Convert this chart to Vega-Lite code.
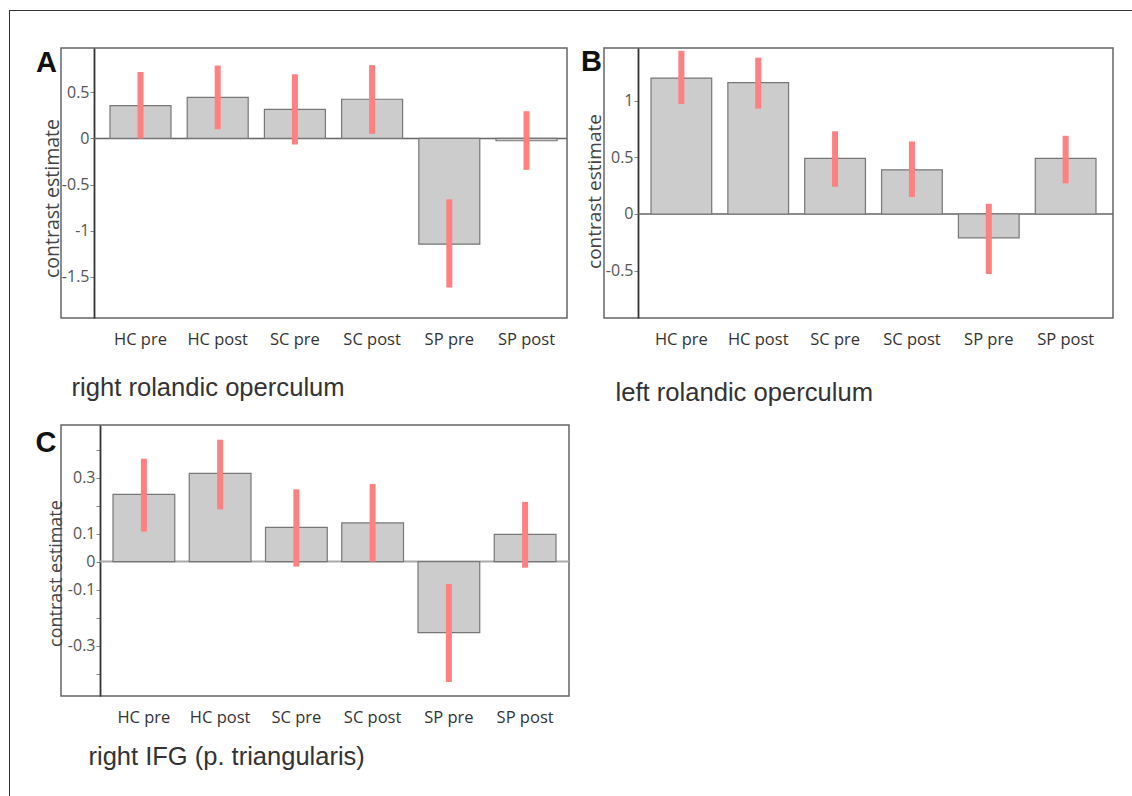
{
  "$schema": "https://vega.github.io/schema/vega-lite/v6.json",
  "padding": {"left": 9, "top": 10, "right": 0, "bottom": 0},
  "background": "white",
  "spacing": 0,
  "config": {
    "view": {"stroke": "#666", "strokeWidth": 1.5},
    "axis": {"grid": false}
  },
  "vconcat": [
    {"width": 1123, "height": 1, "view": {"fill": "#333", "stroke": null}, "data": {"values": []}, "mark": "point", "encoding": {}},
    {
      "spacing": 24,
      "hconcat": [
        {"width": 1, "height": 785, "view": {"fill": "#333", "stroke": null}, "data": {"values": []}, "mark": "point", "encoding": {}},
        {
          "spacing": 35,
          "vconcat": [
            {"width": 1, "height": 1, "view": {"stroke": null}, "data": {"values": []}, "mark": "point", "encoding": {}},
            {
              "spacing": 17,
              "vconcat": [
                {
                  "spacing": 11,
                  "hconcat": [
                    {
                      "width": 506, "height": 270,
                      "title": {"text": "A", "anchor": "start", "frame": "group", "orient": "top", "offset": -30, "dx": -25, "font": "Liberation Sans", "fontSize": 29, "fontWeight": "bold", "color": "#111"},
                      "resolve": {"scale": {"x": "independent"}},
                      "layer": [
                        {
                          "data": {"values": [{"value": 0}]},
                          "mark": {"type": "rule", "color": "#666", "strokeWidth": 1.5},
                          "encoding": {
                            "x": {"datum": 0, "type": "quantitative", "scale": {"domain": [0, 1], "range": [33, 506]}, "axis": null},
                            "x2": {"datum": 1},
                            "y": {"field": "value", "type": "quantitative", "scale": {"domain": [-1.945, 0.98], "nice": false}}
                          }
                        },
                        {
                          "data": {"values": [
                            {"cond": "HC pre", "value": 0.355, "lo": 0.0, "hi": 0.72},
                            {"cond": "HC post", "value": 0.445, "lo": 0.10, "hi": 0.79},
                            {"cond": "SC pre", "value": 0.315, "lo": -0.065, "hi": 0.695},
                            {"cond": "SC post", "value": 0.425, "lo": 0.05, "hi": 0.795},
                            {"cond": "SP pre", "value": -1.145, "lo": -1.615, "hi": -0.66},
                            {"cond": "SP post", "value": -0.025, "lo": -0.34, "hi": 0.295}
                          ]},
                          "layer": [
                            {
                              "mark": {"type": "bar", "fill": "#cccccc", "stroke": "#777", "strokeWidth": 1.2},
                              "encoding": {
                                "x": {"field": "cond", "type": "nominal", "sort": null,
                                  "scale": {"range": [49, 496], "paddingInner": 0.21, "paddingOuter": 0},
                                  "axis": {"orient": "bottom", "domain": false, "ticks": false, "labelPadding": 13, "labelAngle": 0, "labelFont": "Open Sans", "labelFontSize": 16.5, "labelColor": "#333",
                                    "title": "right rolandic operculum", "titleFont": "Liberation Sans", "titleFontSize": 25.6, "titleFontWeight": "normal", "titleColor": "#333", "titleX": 10, "titleY": 77, "titleAlign": "left", "titleBaseline": "alphabetic"}},
                                "y": {"field": "value", "type": "quantitative", "scale": {"domain": [-1.945, 0.98], "nice": false},
                                  "axis": {"values": [-1.5, -1, -0.5, 0, 0.5], "tickCount": 30, "offset": -33, "domainColor": "#333", "domainWidth": 1.8, "tickColor": "#888", "tickSize": 4, "labelPadding": 1, "labelFont": "Open Sans", "labelFontSize": 16, "labelColor": "#555",
                                    "labelExpr": "(datum.value < 0 ? '-' : '') + format(abs(datum.value), '')",
                                    "title": "contrast estimate", "titleFont": "Open Sans", "titleFontSize": 19.5, "titleFontWeight": "normal", "titleColor": "#444", "titleX": -36, "titleY": 150, "titleAngle": -90, "titleAlign": "center", "titleBaseline": "alphabetic"}}
                              }
                            },
                            {
                              "mark": {"type": "rule", "color": "#ff8080", "strokeWidth": 6},
                              "encoding": {
                                "x": {"field": "cond", "type": "nominal", "sort": null},
                                "y": {"field": "lo", "type": "quantitative"},
                                "y2": {"field": "hi"}
                              }
                            }
                          ]
                        }
                      ]
                    },
                    {
                      "width": 509, "height": 270,
                      "title": {"text": "B", "anchor": "start", "frame": "group", "orient": "top", "offset": -29, "dx": -23, "font": "Liberation Sans", "fontSize": 29, "fontWeight": "bold", "color": "#111"},
                      "resolve": {"scale": {"x": "independent"}},
                      "layer": [
                        {
                          "data": {"values": [{"value": 0}]},
                          "mark": {"type": "rule", "color": "#666", "strokeWidth": 1.5},
                          "encoding": {
                            "x": {"datum": 0, "type": "quantitative", "scale": {"domain": [0, 1], "range": [34, 509]}, "axis": null},
                            "x2": {"datum": 1},
                            "y": {"field": "value", "type": "quantitative", "scale": {"domain": [-0.918, 1.465], "nice": false}}
                          }
                        },
                        {
                          "data": {"values": [
                            {"cond": "HC pre", "value": 1.20, "lo": 0.97, "hi": 1.44},
                            {"cond": "HC post", "value": 1.16, "lo": 0.93, "hi": 1.38},
                            {"cond": "SC pre", "value": 0.49, "lo": 0.24, "hi": 0.73},
                            {"cond": "SC post", "value": 0.39, "lo": 0.15, "hi": 0.64},
                            {"cond": "SP pre", "value": -0.21, "lo": -0.53, "hi": 0.09},
                            {"cond": "SP post", "value": 0.49, "lo": 0.27, "hi": 0.69}
                          ]},
                          "layer": [
                            {
                              "mark": {"type": "bar", "fill": "#cccccc", "stroke": "#777", "strokeWidth": 1.2},
                              "encoding": {
                                "x": {"field": "cond", "type": "nominal", "sort": null,
                                  "scale": {"range": [47, 492], "paddingInner": 0.21, "paddingOuter": 0},
                                  "axis": {"orient": "bottom", "domain": false, "ticks": false, "labelPadding": 13, "labelAngle": 0, "labelFont": "Open Sans", "labelFontSize": 16.5, "labelColor": "#333",
                                    "title": "left rolandic operculum", "titleFont": "Liberation Sans", "titleFontSize": 25.6, "titleFontWeight": "normal", "titleColor": "#333", "titleX": 11, "titleY": 82, "titleAlign": "left", "titleBaseline": "alphabetic"}},
                                "y": {"field": "value", "type": "quantitative", "scale": {"domain": [-0.918, 1.465], "nice": false},
                                  "axis": {"values": [-0.5, 0, 0.5, 1], "tickCount": 30, "offset": -34, "domainColor": "#333", "domainWidth": 1.8, "tickColor": "#888", "tickSize": 4, "labelPadding": 1, "labelFont": "Open Sans", "labelFontSize": 16, "labelColor": "#555",
                                    "labelExpr": "(datum.value < 0 ? '-' : '') + format(abs(datum.value), '')",
                                    "title": "contrast estimate", "titleFont": "Open Sans", "titleFontSize": 19, "titleFontWeight": "normal", "titleColor": "#444", "titleX": -38, "titleY": 143, "titleAngle": -90, "titleAlign": "center", "titleBaseline": "alphabetic"}}
                              }
                            },
                            {
                              "mark": {"type": "rule", "color": "#ff8080", "strokeWidth": 6},
                              "encoding": {
                                "x": {"field": "cond", "type": "nominal", "sort": null},
                                "y": {"field": "lo", "type": "quantitative"},
                                "y2": {"field": "hi"}
                              }
                            }
                          ]
                        }
                      ]
                    }
                  ]
                },
                {
                  "width": 508, "height": 271,
                  "title": {"text": "C", "anchor": "start", "frame": "group", "orient": "top", "offset": -33, "dx": -25.5, "font": "Liberation Sans", "fontSize": 29, "fontWeight": "bold", "color": "#111"},
                  "resolve": {"scale": {"x": "independent"}},
                  "layer": [
                    {
                      "data": {"values": [{"value": 0}]},
                      "mark": {"type": "rule", "color": "#aaa", "strokeWidth": 2},
                      "encoding": {
                        "x": {"datum": 0, "type": "quantitative", "scale": {"domain": [0, 1], "range": [39, 508]}, "axis": null},
                        "x2": {"datum": 1},
                        "y": {"field": "value", "type": "quantitative", "scale": {"domain": [-0.48, 0.4875], "nice": false}}
                      }
                    },
                    {
                      "data": {"values": [
                        {"cond": "HC pre", "value": 0.24, "lo": 0.107, "hi": 0.367},
                        {"cond": "HC post", "value": 0.315, "lo": 0.186, "hi": 0.435},
                        {"cond": "SC pre", "value": 0.122, "lo": -0.018, "hi": 0.258},
                        {"cond": "SC post", "value": 0.138, "lo": 0.0, "hi": 0.277},
                        {"cond": "SP pre", "value": -0.254, "lo": -0.43, "hi": -0.08},
                        {"cond": "SP post", "value": 0.097, "lo": -0.022, "hi": 0.213}
                      ]},
                      "layer": [
                        {
                          "mark": {"type": "bar", "fill": "#cccccc", "stroke": "#777", "strokeWidth": 1.2},
                          "encoding": {
                            "x": {"field": "cond", "type": "nominal", "sort": null,
                              "scale": {"range": [52, 495], "paddingInner": 0.19, "paddingOuter": 0},
                              "axis": {"orient": "bottom", "domain": false, "ticks": false, "labelPadding": 13, "labelAngle": 0, "labelFont": "Open Sans", "labelFontSize": 16.5, "labelColor": "#333",
                                "title": "right IFG (p. triangularis)", "titleFont": "Liberation Sans", "titleFontSize": 25.5, "titleFontWeight": "normal", "titleColor": "#333", "titleX": 27, "titleY": 68, "titleAlign": "left", "titleBaseline": "alphabetic"}},
                            "y": {"field": "value", "type": "quantitative", "scale": {"domain": [-0.48, 0.4875], "nice": false},
                              "axis": {"values": [-0.4, -0.3, -0.2, -0.1, 0, 0.1, 0.2, 0.3, 0.4], "tickCount": 30, "labelOverlap": false, "offset": -39, "domainColor": "#333", "domainWidth": 1.8, "tickColor": "#888", "tickSize": 4, "labelPadding": 1, "labelFont": "Open Sans", "labelFontSize": 16, "labelColor": "#555",
                                "labelExpr": "(abs(datum.value) > 0.15 && abs(datum.value) < 0.25) || abs(datum.value) > 0.35 ? '' : (datum.value < 0 ? '-' : '') + format(abs(datum.value), '')",
                                "title": "contrast estimate", "titleFont": "Open Sans", "titleFontSize": 18, "titleFontWeight": "normal", "titleColor": "#444", "titleX": -39, "titleY": 148, "titleAngle": -90, "titleAlign": "center", "titleBaseline": "alphabetic"}}
                          }
                        },
                        {
                          "mark": {"type": "rule", "color": "#ff8080", "strokeWidth": 6},
                          "encoding": {
                            "x": {"field": "cond", "type": "nominal", "sort": null},
                            "y": {"field": "lo", "type": "quantitative"},
                            "y2": {"field": "hi"}
                          }
                        }
                      ]
                    }
                  ]
                }
              ]
            }
          ]
        }
      ]
    }
  ]
}
